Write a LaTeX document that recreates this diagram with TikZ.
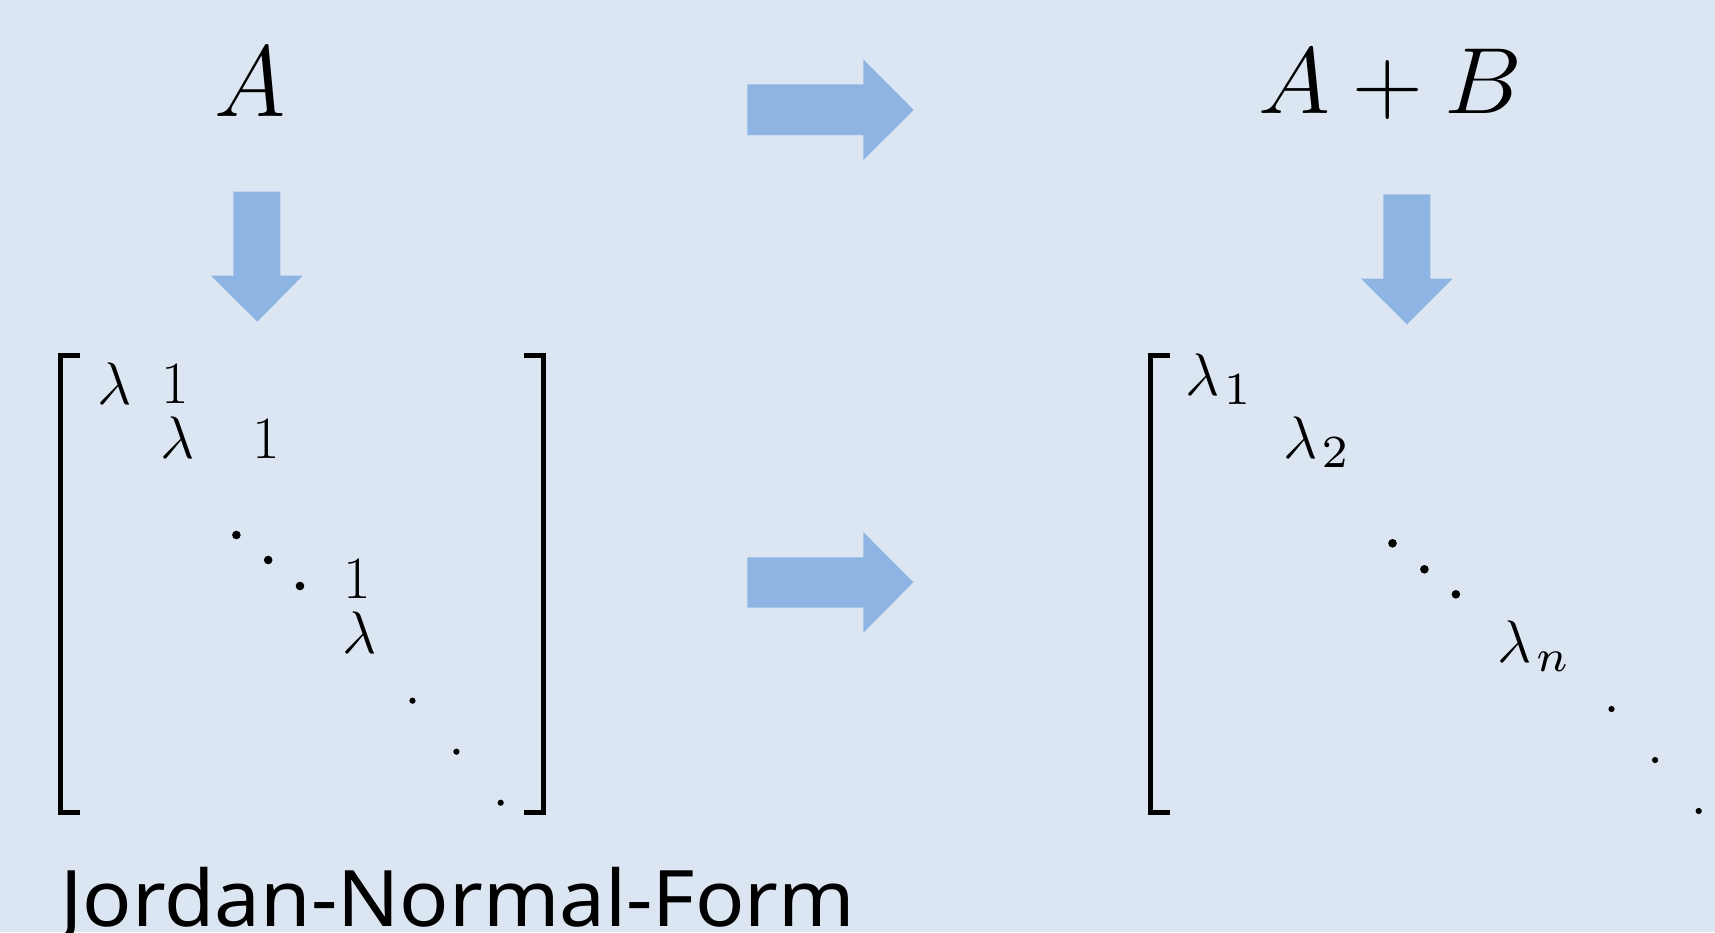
\RequirePackage{fix-cm}
\documentclass[tikz,border=0pt]{standalone}
\usepackage{fontspec}
\usepackage{graphicx}
\DeclareMathSizes{60}{60}{42}{30}
\font\subrmfont=cmr7 at 46pt
\font\subitfont=cmmi7 at 45pt
\newcommand{\subtxt}[2]{\hbox{\kern4pt#1\relax#2}}
\newfontfamily\jnffont{Noto Sans}
\definecolor{bgblue}{RGB}{220,230,242}
\definecolor{arrowblue}{RGB}{142,180,227}
\begin{document}
\begin{tikzpicture}[x=1pt,y=-1pt,
  blockarrow/.style={fill=arrowblue},
  bracketline/.style={draw=black,line width=5pt,line join=miter,line cap=butt},
  entry/.style={inner sep=0pt,outer sep=0pt,anchor=base,font=\fontsize{60}{72}\selectfont},
  entryw/.style={entry,anchor=base west},
  bigdotfill/.style={fill=black},
  toplabel/.style={inner sep=0pt,anchor=base,font=\fontsize{97}{116}\selectfont},
]
\fill[bgblue] (0,0) rectangle (1715,932);
\useasboundingbox (0,0) rectangle (1715,932);

% top labels
\node[toplabel] (A) at (250,116) {\scalebox{1}[1.04]{$A$}};
\node[toplabel,font=\fontsize{98}{116}\selectfont] (AB) at (1390.5,113.3) {\scalebox{1}[0.96]{$A+B$}};

% block arrows
\fill[blockarrow] (747.3,84.3) -- (863.3,84.3) -- (863.3,59.3) -- (913.7,110) -- (863.3,160) -- (863.3,135) -- (747.3,135) -- cycle;
\fill[blockarrow] (747.3,557.3) -- (863.3,557.3) -- (863.3,532) -- (913.3,582.3) -- (863.3,632.7) -- (863.3,607.7) -- (747.3,607.7) -- cycle;
\fill[blockarrow] (233.3,191.7) -- (280.3,191.7) -- (280.3,275.7) -- (302.7,275.7) -- (257.3,321.7) -- (211,275.7) -- (233.3,275.7) -- cycle;
\fill[blockarrow] (1383.3,194.3) -- (1430.3,194.3) -- (1430.3,278.7) -- (1452.7,278.7) -- (1407,324.3) -- (1361,278.7) -- (1383.3,278.7) -- cycle;

% left matrix brackets
\draw[bracketline] (80,355.2) -- (60.9,355.2) -- (60.9,812.5) -- (80,812.5);
\draw[bracketline] (524.3,355.2) -- (543,355.2) -- (543,812.5) -- (524.3,812.5);
% right matrix bracket
\draw[bracketline] (1170,355.2) -- (1150.8,355.2) -- (1150.8,812.5) -- (1170,812.5);

% left matrix entries
\node[entry] (l11) at (114.2,404.5) {$\lambda$};
\node[entry] (l12) at (175.1,403.3) {$1$};
\node[entry] (l22) at (177.9,458.3) {$\lambda$};
\node[entry] (l23) at (266.6,458.3) {$1$};
\node[entry] (l45) at (357.7,598.3) {$1$};
\node[entry] (l55) at (359.6,653.3) {$\lambda$};

\foreach \px/\py in {236.4/535,268.2/560,300/586}
  \fill[bigdotfill] (\px,\py) circle[radius=4.3pt];
\foreach \px/\py in {412.5/700.7,456.4/751.7,500.7/802.7}
  \fill[bigdotfill] (\px,\py) circle[radius=3.1pt];

% right matrix entries
\node[entryw] (r1) at (1185.6,395) {$\lambda_{\subtxt{\subrmfont}{1}}$};
\node[entryw] (r2) at (1283.3,458.3) {$\lambda_{\subtxt{\subrmfont}{2}}$};
\node[entryw] (rn) at (1497.8,662.3) {$\lambda_{\subtxt{\subitfont}{n}}$};

\foreach \px/\py in {1392.5/543.3,1424.4/569.3,1455.9/594.3}
  \fill[bigdotfill] (\px,\py) circle[radius=4.3pt];
\foreach \px/\py in {1611.5/709,1655.1/760,1698.7/811}
  \fill[bigdotfill] (\px,\py) circle[radius=3.1pt];

% caption
\node[inner sep=0pt,anchor=base west,font=\jnffont\fontsize{78}{90}\selectfont] (jnf) at (60,926) {\resizebox{795pt}{\height}{Jordan-Normal-Form}};
\end{tikzpicture}
\end{document}
